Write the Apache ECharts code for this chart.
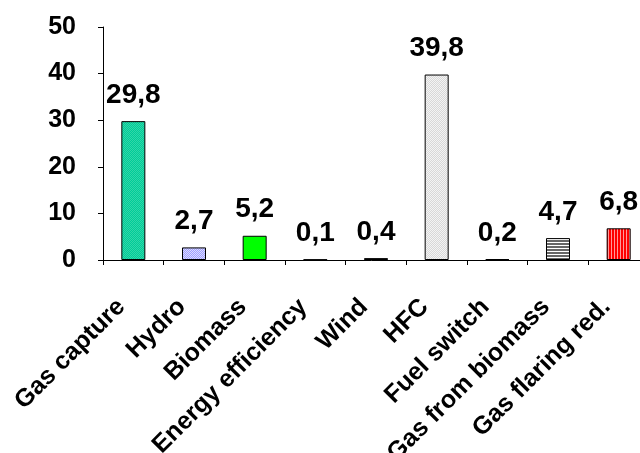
<!DOCTYPE html>
<html>
<head>
<meta charset="utf-8">
<script src="https://cdn.jsdelivr.net/npm/echarts@6/dist/echarts.min.js"></script>
<style>
  html, body { margin: 0; padding: 0; background: #fff; }
  #chart { width: 640px; height: 453px; }
</style>
</head>
<body>
<div id="chart"></div>
<script>
// Project categories and their values
var categories = ['Gas capture', 'Hydro', 'Biomass', 'Energy efficiency', 'Wind', 'HFC', 'Fuel switch', 'Gas from biomass', 'Gas flaring red.'];
var values = [29.8, 2.7, 5.2, 0.1, 0.4, 39.8, 0.2, 4.7, 6.8];
var yTicks = [0, 10, 20, 30, 40, 50];

// Small tiled fills for the bars
function pattern(w, h, draw) {
  var c = document.createElement('canvas');
  c.width = w; c.height = h;
  var ctx = c.getContext('2d');
  draw(ctx);
  return { image: c, repeat: 'repeat' };
}
function dots(base, dot) {
  return pattern(2, 2, function (ctx) {
    ctx.fillStyle = base; ctx.fillRect(0, 0, 2, 2);
    ctx.fillStyle = dot; ctx.fillRect(0, 0, 1, 1); ctx.fillRect(1, 1, 1, 1);
  });
}
var fills = [
  dots('#00cc99', '#33d6a8'),
  dots('#a0a0ff', '#dcdcff'),
  '#00ff00',
  '#000000',
  '#000000',
  dots('#d8d8d8', '#f4f4f4'),
  '#000000',
  pattern(1, 3, function (ctx) {
    ctx.fillStyle = '#ffffff'; ctx.fillRect(0, 0, 1, 3);
    ctx.fillStyle = '#666666'; ctx.fillRect(0, 0, 1, 2);
  }),
  pattern(3, 1, function (ctx) {
    ctx.fillStyle = '#ff9999'; ctx.fillRect(0, 0, 3, 1);
    ctx.fillStyle = '#ff0000'; ctx.fillRect(0, 0, 2, 1);
  })
];

var font = 'Arial, "Liberation Sans", sans-serif';

var chart = echarts.init(document.getElementById('chart'), null, { renderer: 'canvas' });
chart.setOption({
  animation: false,
  backgroundColor: '#ffffff',
  grid: { left: 103, right: -9, top: 27, bottom: 193, containLabel: false, outerBoundsMode: 'none' },
  xAxis: {
    type: 'category',
    data: categories,
    axisLine: { lineStyle: { color: '#000', width: 1 } },
    axisTick: { show: true, length: 5, lineStyle: { color: '#000' } },
    axisLabel: {
      rotate: 45,
      interval: 0,
      margin: 31,
      padding: [0, 17, 0, 0],
      color: '#000',
      fontWeight: 'bold',
      fontSize: 25,
      fontFamily: font
    },
    splitLine: { show: false }
  },
  yAxis: {
    type: 'value',
    min: yTicks[0],
    max: yTicks[yTicks.length - 1],
    interval: 10,
    axisLine: { show: true, lineStyle: { color: '#000', width: 1 } },
    axisTick: { show: true, length: 5, lineStyle: { color: '#000' } },
    axisLabel: {
      margin: 27,
      color: '#000',
      fontWeight: 'bold',
      fontSize: 25,
      fontFamily: font
    },
    splitLine: { show: false }
  },
  series: [{
    type: 'bar',
    barWidth: 24,
    data: values.map(function (v, i) {
      return { value: v, itemStyle: { color: fills[i] } };
    }),
    itemStyle: { borderColor: '#000', borderWidth: 1 },
    label: {
      show: true,
      position: 'top',
      distance: 12,
      color: '#000',
      fontWeight: 'bold',
      fontSize: 28,
      fontFamily: font,
      formatter: function (p) { return String(p.value).replace('.', ','); }
    }
  }]
});
</script>
</body>
</html>
